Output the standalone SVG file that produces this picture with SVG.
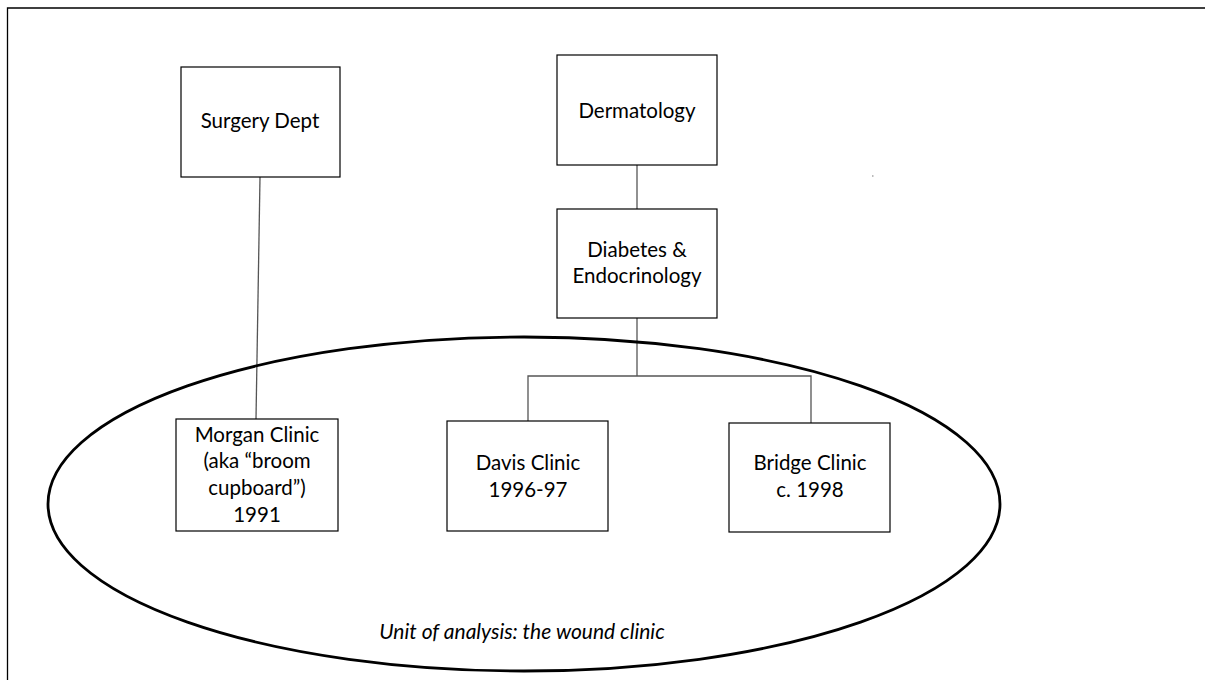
<svg xmlns="http://www.w3.org/2000/svg" width="1205" height="680" viewBox="0 0 1205 680">
<style>
.box{fill:#fff;stroke:#000;stroke-width:1.2}
.conn{stroke:#555;stroke-width:1.3;fill:none}
.lbl{font-family:Lato,"Liberation Sans",sans-serif;font-size:20.5px;fill:#000;text-anchor:middle}
.unit{font-family:Lato,"Liberation Sans",sans-serif;font-size:21px;font-style:italic;fill:#000;text-anchor:middle}
</style>
<rect width="1205" height="680" fill="#fff"/>
<path d="M7.5,680 V8 H1205" fill="none" stroke="#000" stroke-width="1.3"/>
<rect x="872" y="175" width="1.5" height="2" fill="#bbb"/>
<g id="connectors">
<line class="conn" x1="260" y1="177" x2="256" y2="419"/>
<line class="conn" x1="637" y1="165" x2="637" y2="209"/>
<polyline class="conn" points="637,318 637,376"/>
<polyline class="conn" points="528,422 528,376 811,376 811,423"/>
</g>
<g id="unit-of-analysis">
<ellipse cx="524" cy="504" rx="476" ry="167" fill="none" stroke="#000" stroke-width="2.8"/>
<text class="unit" x="522" y="639">Unit of analysis: the wound clinic</text>
</g>
<g id="surgery">
<rect class="box" x="181" y="67" width="159" height="110"/>
<text class="lbl" x="260" y="128">Surgery Dept</text>
</g>
<g id="dermatology">
<rect class="box" x="557" y="55" width="160" height="110"/>
<text class="lbl" x="637" y="118">Dermatology</text>
</g>
<g id="diabetes">
<rect class="box" x="557" y="209" width="160" height="109"/>
<text class="lbl" x="637" y="257">Diabetes &amp;</text>
<text class="lbl" x="637" y="283">Endocrinology</text>
</g>
<g id="morgan">
<rect class="box" x="176" y="419" width="162" height="112"/>
<text class="lbl" x="257" y="442">Morgan Clinic</text>
<text class="lbl" x="257" y="468">(aka “broom</text>
<text class="lbl" x="257" y="495">cupboard”)</text>
<text class="lbl" x="257" y="522">1991</text>
</g>
<g id="davis">
<rect class="box" x="447" y="421" width="161" height="110"/>
<text class="lbl" x="528" y="470">Davis Clinic</text>
<text class="lbl" x="528" y="497">1996-97</text>
</g>
<g id="bridge">
<rect class="box" x="729" y="423" width="161" height="109"/>
<text class="lbl" x="810" y="470">Bridge Clinic</text>
<text class="lbl" x="810" y="497">c. 1998</text>
</g>
</svg>
